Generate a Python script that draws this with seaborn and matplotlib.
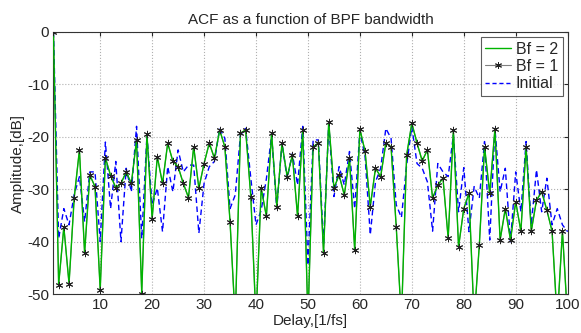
import numpy as np
import pandas as pd
import matplotlib
matplotlib.use("Agg")
import matplotlib.pyplot as plt
import seaborn as sns
from matplotlib.lines import Line2D

# delay axis (samples 1..100)
delay = list(range(1, 101))

# Bf = 2 and Bf = 1 give the same ACF (drawn on top of each other)
acf_bf = [
    0, -48.2, -37.2, -48.0, -31.6, -22.5, -42.2, -27.3, -29.5, -49.2,
    -24.0, -27.4, -29.7, -28.9, -26.7, -28.9, -20.6, -49.9, -19.5, -35.6,
    -23.8, -28.9, -21.2, -24.7, -25.7, -28.9, -31.6, -21.9, -29.8, -25.1,
    -21.2, -24.1, -18.7, -21.9, -36.2, -55.0, -19.3, -18.7, -31.4, -55.0,
    -29.8, -35.2, -19.3, -33.3, -21.2, -27.6, -23.5, -35.2, -18.7, -55.0,
    -21.9, -21.2, -42.2, -17.1, -29.8, -27.3, -31.1, -24.1, -41.6, -18.5,
    -22.8, -33.3, -26.0, -27.6, -21.2, -21.9, -37.2, -55.0, -23.5, -17.4,
    -21.2, -24.6, -22.5, -31.7, -29.2, -27.9, -39.4, -18.7, -41.0, -33.7,
    -30.8, -55.0, -40.6, -21.9, -30.8, -18.5, -39.7, -33.7, -39.7, -32.4,
    -38.0, -21.9, -38.0, -32.1, -30.5, -34.0, -38.0, -55.0, -38.0, -55.0,
]

acf_initial = [
    0, -39.4, -33.7, -36.8, -31.0, -27.6, -36.2, -26.7, -26.7, -40.0,
    -21.0, -33.7, -24.7, -40.0, -26.0, -30.5, -18.0, -39.4, -19.7, -33.0,
    -29.8, -38.1, -25.7, -30.5, -22.5, -26.7, -25.4, -25.4, -38.4, -28.9,
    -25.7, -24.7, -18.4, -20.3, -33.7, -31.1, -19.7, -18.4, -27.9, -36.8,
    -34.0, -28.0, -19.7, -33.7, -21.2, -28.0, -23.2, -29.2, -18.0, -44.5,
    -20.6, -20.6, -40.6, -17.7, -31.4, -25.7, -29.2, -22.8, -33.7, -19.0,
    -23.8, -38.7, -28.6, -26.0, -18.4, -20.3, -33.0, -35.4, -25.4, -18.1,
    -25.1, -26.0, -28.6, -38.0, -25.1, -26.7, -27.6, -19.7, -34.3, -25.9,
    -38.1, -29.5, -31.7, -20.9, -39.7, -18.4, -30.5, -26.0, -40.0, -26.7,
    -34.3, -20.9, -36.8, -26.3, -34.3, -27.9, -36.8, -33.7, -36.8, -38.1,
]

df = pd.DataFrame({"delay": delay, "bf": acf_bf, "initial": acf_initial})

sns.set_style("white")
plt.rcParams["font.family"] = ["Liberation Sans", "DejaVu Sans"]
plt.rcParams["axes.unicode_minus"] = False

fig = plt.figure(figsize=(5.81, 3.33), dpi=100)
ax = fig.add_axes([0.092, 0.117, 0.885, 0.787])

green = "#00b400"
asterisk = (6, 2, 0)
sns.lineplot(data=df, x="delay", y="bf", color="#808080", lw=0.8, ax=ax, zorder=2)
sns.lineplot(data=df, x="delay", y="bf", color=green, lw=1.0, ax=ax, zorder=3)
sns.lineplot(data=df, x="delay", y="initial", color="blue", lw=1.0, ax=ax,
             zorder=2.5, linestyle=(0, (4, 2.5)))
sns.scatterplot(data=df, x="delay", y="bf", marker=asterisk, s=22, color="#222222",
                linewidth=0.7, ax=ax, zorder=4)

ax.set_xlim(1, 100)
ax.set_ylim(-50, 0)
ax.set_xticks(range(10, 101, 10))
ax.set_yticks(range(-50, 1, 10))
ax.tick_params(direction="in", top=True, right=True, length=3, labelsize=11, pad=3)
ax.grid(True, linestyle=":", color="#b0b0b0", lw=0.8)
for s in ax.spines.values():
    s.set_color("#333333")
    s.set_linewidth(0.8)

ax.set_title("ACF as a function of BPF bandwidth", fontsize=11, pad=6)
ax.set_xlabel("Delay,[1/fs]", fontsize=11, labelpad=1)
ax.set_ylabel("Amplitude,[dB]", fontsize=11, labelpad=2)

handles = [
    Line2D([], [], color=green, lw=1.0),
    Line2D([], [], color="#808080", lw=0.8, marker=asterisk, markersize=5,
           markeredgewidth=0.7, markeredgecolor="#222222"),
    Line2D([], [], color="blue", lw=1.0, linestyle=(0, (3, 2))),
]
leg = ax.legend(handles, ["Bf = 2", "Bf = 1", "Initial"], loc="upper right",
                fontsize=11.5, frameon=True, fancybox=False, handlelength=1.6,
                handletextpad=0.3, borderaxespad=0.3, borderpad=0.3,
                labelspacing=0.15)
leg.get_frame().set_edgecolor("#333333")
leg.get_frame().set_linewidth(0.8)

fig.savefig("out.png", dpi=100)
